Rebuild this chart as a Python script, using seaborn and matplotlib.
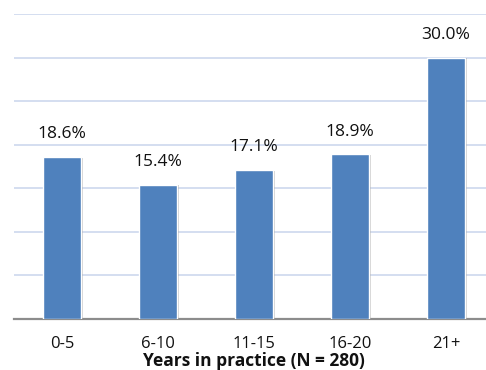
import matplotlib
matplotlib.use("Agg")
import matplotlib.pyplot as plt
import matplotlib.patheffects as pe
import seaborn as sns
import pandas as pd

categories = ["0-5", "6-10", "11-15", "16-20", "21+"]
percentages = [18.6, 15.4, 17.1, 18.9, 30.0]
x_title = "Years in practice (N = 280)"

sns.set_theme(style="white")
plt.rcParams["font.family"] = ["Open Sans", "DejaVu Sans"]

df = pd.DataFrame({"years": categories, "pct": percentages})

fig = plt.figure(figsize=(4.86, 3.70), dpi=100)
ax = fig.add_axes([14 / 486, 1 - 319 / 370, 480 / 486, 305 / 370])

sns.barplot(data=df, x="years", y="pct", color="#4f81bd", width=0.39,
            saturation=1, ax=ax, zorder=3)

for bar in ax.patches:
    bar.set_path_effects([
        pe.SimplePatchShadow(offset=(1.5, -0.5), shadow_rgbFace="#8a8a8a", alpha=0.4),
        pe.Normal(),
    ])

for bar, val in zip(ax.patches, percentages):
    ax.annotate(f"{val:.1f}%", (bar.get_x() + bar.get_width() / 2, val),
                xytext=(0, 10.5), textcoords="offset points",
                ha="center", va="bottom", fontsize=12.5, color="#111111")

ax.set_ylim(0, 35)
ax.set_yticks(range(0, 36, 5))
ax.set_yticklabels([])
ax.tick_params(axis="y", length=0)
ax.yaxis.grid(True, color="#d4def0", linewidth=1.4, zorder=0)
ax.set_axisbelow(True)

for side in ["left", "right", "top"]:
    ax.spines[side].set_visible(False)
ax.spines["bottom"].set_color("#8c8c8c")
ax.spines["bottom"].set_linewidth(1.6)

ax.tick_params(axis="x", length=0, pad=12, labelsize=12, labelcolor="#111111")
ax.set_ylabel("")
ax.set_xlabel(x_title, fontsize=12.5, fontweight="bold", color="#111111", labelpad=0)

fig.savefig("out.png", dpi=100)
